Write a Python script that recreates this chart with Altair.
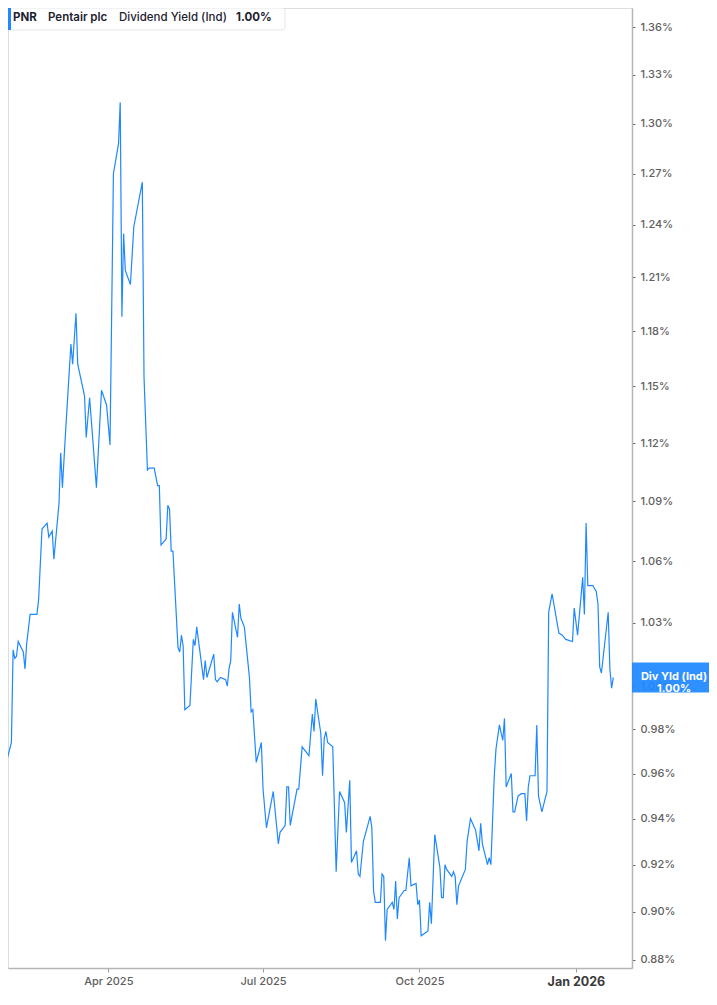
import altair as alt
import pandas as pd

# ---- data (Dividend Yield (Ind), PNR), values in percent ----
dates_q1 = ["2025-01-27", "2025-01-28", "2025-01-29", "2025-01-30", "2025-01-31",
            "2025-02-03", "2025-02-04", "2025-02-05", "2025-02-06", "2025-02-07",
            "2025-02-10", "2025-02-11", "2025-02-12", "2025-02-14", "2025-02-18",
            "2025-02-19", "2025-02-21", "2025-02-24", "2025-02-25", "2025-02-27",
            "2025-02-28", "2025-03-03", "2025-03-04", "2025-03-05", "2025-03-07",
            "2025-03-10", "2025-03-11", "2025-03-13", "2025-03-14", "2025-03-18",
            "2025-03-19", "2025-03-21", "2025-03-25", "2025-03-28", "2025-03-31"]
values_q1 = [0.976, 0.974, 0.984, 0.966, 0.965,
             0.974, 1.017, 1.013, 1.014, 1.021,
             1.016, 1.008, 1.020, 1.034, 1.034,
             1.041, 1.076, 1.079, 1.072, 1.075,
             1.061, 1.089, 1.115, 1.097, 1.128,
             1.173, 1.162, 1.190, 1.162, 1.145,
             1.123, 1.144, 1.097, 1.148, 1.140]

dates_q2 = ["2025-04-02", "2025-04-04", "2025-04-07", "2025-04-08", "2025-04-09",
            "2025-04-10", "2025-04-11", "2025-04-14", "2025-04-16", "2025-04-21",
            "2025-04-22", "2025-04-24", "2025-04-25", "2025-04-28", "2025-04-30",
            "2025-05-01", "2025-05-02", "2025-05-05", "2025-05-06", "2025-05-07",
            "2025-05-08", "2025-05-09", "2025-05-12", "2025-05-13", "2025-05-14",
            "2025-05-15", "2025-05-16", "2025-05-19", "2025-05-21", "2025-05-22",
            "2025-05-23", "2025-05-27", "2025-05-28", "2025-05-29", "2025-06-02",
            "2025-06-03", "2025-06-04", "2025-06-06", "2025-06-09", "2025-06-10",
            "2025-06-11", "2025-06-12", "2025-06-13", "2025-06-16", "2025-06-17",
            "2025-06-18", "2025-06-20", "2025-06-23", "2025-06-24", "2025-06-25",
            "2025-06-27", "2025-06-30"]
values_q2 = [1.119, 1.270, 1.288, 1.313, 1.188,
             1.235, 1.214, 1.206, 1.239, 1.265,
             1.155, 1.106, 1.107, 1.107, 1.098,
             1.098, 1.068, 1.071, 1.088, 1.086,
             1.065, 1.065, 1.018, 1.016, 1.024,
             1.019, 0.989, 0.991, 1.022, 1.019,
             1.028, 1.003, 1.012, 1.004, 1.015,
             1.003, 1.002, 1.004, 1.003, 1.000,
             1.008, 1.012, 1.035, 1.023, 1.039,
             1.032, 1.028, 1.004, 0.988, 0.989,
             0.965, 0.974]

dates_q3 = ["2025-07-01", "2025-07-03", "2025-07-07", "2025-07-10", "2025-07-11",
            "2025-07-14", "2025-07-15", "2025-07-16", "2025-07-17", "2025-07-21",
            "2025-07-22", "2025-07-24", "2025-07-28", "2025-07-30", "2025-07-31",
            "2025-08-01", "2025-08-04", "2025-08-05", "2025-08-06", "2025-08-07",
            "2025-08-08", "2025-08-11", "2025-08-13", "2025-08-15", "2025-08-18",
            "2025-08-19", "2025-08-21", "2025-08-22", "2025-08-25", "2025-08-26",
            "2025-08-27", "2025-08-29", "2025-09-02", "2025-09-03", "2025-09-04",
            "2025-09-05", "2025-09-08", "2025-09-09", "2025-09-10", "2025-09-11",
            "2025-09-12", "2025-09-15", "2025-09-16", "2025-09-17", "2025-09-18",
            "2025-09-19", "2025-09-22", "2025-09-23", "2025-09-25", "2025-09-26",
            "2025-09-29", "2025-09-30"]
values_q3 = [0.953, 0.936, 0.952, 0.929, 0.934,
             0.937, 0.954, 0.954, 0.937, 0.953,
             0.953, 0.972, 0.968, 0.987, 0.979,
             0.994, 0.978, 0.959, 0.976, 0.979,
             0.974, 0.972, 0.917, 0.952, 0.947,
             0.934, 0.957, 0.921, 0.926, 0.916,
             0.915, 0.930, 0.941, 0.936, 0.909,
             0.904, 0.904, 0.916, 0.915, 0.888,
             0.901, 0.904, 0.901, 0.913, 0.897,
             0.906, 0.909, 0.909, 0.923, 0.911,
             0.912, 0.903]

dates_q4 = ["2025-10-01", "2025-10-02", "2025-10-06", "2025-10-07", "2025-10-08",
            "2025-10-10", "2025-10-13", "2025-10-14", "2025-10-15", "2025-10-16",
            "2025-10-17", "2025-10-20", "2025-10-21", "2025-10-22", "2025-10-23",
            "2025-10-24", "2025-10-28", "2025-10-29", "2025-10-31", "2025-11-03",
            "2025-11-05", "2025-11-06", "2025-11-07", "2025-11-10", "2025-11-11",
            "2025-11-12", "2025-11-14", "2025-11-15", "2025-11-17", "2025-11-19",
            "2025-11-20", "2025-11-21", "2025-11-24", "2025-11-25", "2025-11-26",
            "2025-11-28", "2025-11-30", "2025-12-02", "2025-12-03", "2025-12-04",
            "2025-12-05", "2025-12-08", "2025-12-09", "2025-12-10", "2025-12-12",
            "2025-12-15", "2025-12-16", "2025-12-18", "2025-12-22", "2025-12-24",
            "2025-12-26", "2025-12-30", "2025-12-31"]
values_q4 = [0.905, 0.890, 0.892, 0.904, 0.895,
             0.933, 0.919, 0.906, 0.906, 0.920,
             0.918, 0.915, 0.917, 0.915, 0.903,
             0.911, 0.918, 0.930, 0.940, 0.935,
             0.926, 0.938, 0.929, 0.920, 0.923,
             0.920, 0.959, 0.971, 0.982, 0.975,
             0.985, 0.954, 0.960, 0.943, 0.943,
             0.950, 0.951, 0.951, 0.939, 0.954,
             0.959, 0.959, 0.982, 0.950, 0.943,
             0.952, 1.035, 1.044, 1.025, 1.024,
             1.022, 1.021, 1.037]

dates_2026 = ["2026-01-02", "2026-01-05", "2026-01-06", "2026-01-07", "2026-01-08",
              "2026-01-11", "2026-01-13", "2026-01-14", "2026-01-15", "2026-01-16",
              "2026-01-20", "2026-01-21", "2026-01-22", "2026-01-23"]
values_2026 = [1.024, 1.052, 1.034, 1.079, 1.048,
               1.048, 1.045, 1.039, 1.009, 1.006,
               1.035, 1.008, 0.999, 1.004]

y_ticks = [0.88, 0.90, 0.92, 0.94, 0.96, 0.98, 1.00, 1.03, 1.06, 1.09,
           1.12, 1.15, 1.18, 1.21, 1.24, 1.27, 1.30, 1.33, 1.36]

ticker = "PNR"
company = "Pentair plc"
metric = "Dividend Yield (Ind)"
short_metric = "Div Yld (Ind)"

# ---- assemble ----
all_dates = dates_q1 + dates_q2 + dates_q3 + dates_q4 + dates_2026
all_values = values_q1 + values_q2 + values_q3 + values_q4 + values_2026
df = pd.DataFrame({"date": all_dates, "value": all_values})
last_df = df.iloc[[-1]].copy()
last_txt = f"{all_values[-1]:.2f}%"

BLUE = "#1f88ff"
FONT = "Inter"
W, H = 624, 960

x_scale = alt.Scale(
    type="utc",
    domain=[alt.DateTime(year=2025, month=2, date=1, utc=True),
            alt.DateTime(year=2026, month=2, date=3, utc=True)],
)
y_scale = alt.Scale(type="log", domain=[0.87672, 1.37212], nice=False)

is_jan = "utcmonth(datum.value) == 0"
x_axis = alt.Axis(
    title=None,
    values=[alt.DateTime(year=2025, month=4, date=1, utc=True),
            alt.DateTime(year=2025, month=7, date=1, utc=True),
            alt.DateTime(year=2025, month=10, date=1, utc=True),
            alt.DateTime(year=2026, month=1, date=1, utc=True)],
    labelExpr="utcFormat(datum.value, '%b %Y')",
    grid=False,
    domainColor="#b5b5b5",
    domainWidth=1.5,
    tickColor="#9a9a9a",
    tickSize=4,
    labelPadding=3,
    labelFont=FONT,
    labelFontSize={"condition": {"test": is_jan, "value": 12.5}, "value": 11},
    labelFontWeight={"condition": {"test": is_jan, "value": 700}, "value": 500},
    labelColor={"condition": {"test": is_jan, "value": "#3a3a3a"}, "value": "#606060"},
)
y_axis = alt.Axis(
    title=None,
    orient="right",
    values=y_ticks,
    labelExpr="format(datum.value, '.2f') + '%'",
    grid=False,
    domainColor="#b5b5b5",
    domainWidth=1.5,
    tickColor="#666666",
    tickSize=3,
    labelPadding=5,
    labelFont=FONT,
    labelFontSize=11,
    labelFontWeight=500,
    labelColor="#606060",
)

line = alt.Chart(df).mark_line(color=BLUE, strokeWidth=1.2, clip=True).encode(
    x=alt.X("date:T", scale=x_scale, axis=x_axis),
    y=alt.Y("value:Q", scale=y_scale, axis=y_axis),
)

# last-value badge on the right axis (runs off the right edge like the reference)
badge_shape = "M-1,-0.353L1,-0.353L1,0.353L-1,0.353Z"
badge = alt.Chart(last_df).mark_point(
    shape=badge_shape, size=7225, filled=True, color=BLUE, opacity=0.93, strokeWidth=0
).encode(x=alt.value(666.5), y=alt.Y("value:Q", scale=y_scale))
badge_text = alt.Chart(last_df).mark_text(
    text=[short_metric, last_txt], color="white", font=FONT, fontSize=11,
    fontWeight=700, align="center", baseline="middle", lineHeight=12
).encode(x=alt.value(666), y=alt.Y("value:Q", scale=y_scale))

# header legend box
one = pd.DataFrame({"k": [0]})
legend_box = alt.Chart(one).mark_rect(
    fill="white", stroke="#e4e6ea", strokeWidth=1, cornerRadius=3
).encode(x=alt.value(0), x2=alt.value(277), y=alt.value(0), y2=alt.value(22))
legend_bar = alt.Chart(one).mark_rect(fill=BLUE).encode(
    x=alt.value(0), x2=alt.value(3), y=alt.value(0), y2=alt.value(22)
)


def legend_text(txt, x, weight):
    return alt.Chart(one).mark_text(
        text=txt, align="left", baseline="middle", font=FONT, fontSize=11.5,
        fontWeight=weight, color="#1e2230"
    ).encode(x=alt.value(x), y=alt.value(10))


chart = alt.layer(
    line,
    badge,
    badge_text,
    legend_box,
    legend_bar,
    legend_text(ticker, 5, 700),
    legend_text(company, 40, 600),
    legend_text(metric, 111, 500),
    legend_text(last_txt, 228, 700),
).properties(
    width=W, height=H,
    autosize=alt.AutoSizeParams(type="none"),
    padding={"left": 0, "top": 0, "right": 77, "bottom": 20},
).configure_view(stroke=None).configure(background="white")

chart.save("out.html", embed_options={"renderer": "svg", "actions": False})
